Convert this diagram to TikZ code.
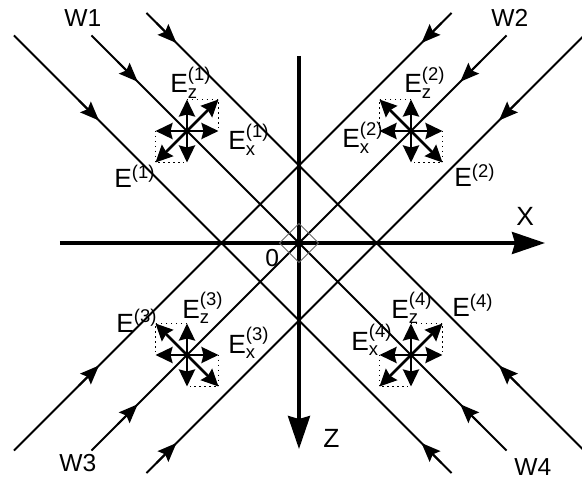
\documentclass[tikz,border=0pt]{standalone}
\usepackage{amsmath}
\usepackage{fontspec}
\setmainfont{Liberation Sans}
\usetikzlibrary{arrows.meta}

\begin{document}
\begin{tikzpicture}[x=1cm,y=1cm,
  wave/.style={line width=1.2pt},
  wavetip/.style={line width=1.2pt, -{Stealth[length=0.38cm, width=0.3cm, inset=0.06cm]}},
  axis/.style={line width=2pt, -{Stealth[length=0.66cm, width=0.44cm, inset=0.06cm]}},
  field/.style={line width=1.6pt, -{Stealth[length=0.34cm, width=0.32cm, inset=0.04cm]}},
  comp/.style={dotted, line width=0.8pt},
  lbl/.style={anchor=base west, inner sep=0pt, font=\fontsize{15}{17}\selectfont},
  wlbl/.style={anchor=base west, inner sep=0pt, font=\fontsize{14}{16}\selectfont}]
  \useasboundingbox (-5.98,-4.70) rectangle (5.66,4.86);

  % waves going down-right
  \draw[wave] (-5.7,4.15) -- (3.05,-4.6);
  \draw[wave] (-4.15,4.15) -- (4.15,-4.15);
  \draw[wave] (-3.05,4.6) -- (5.7,-4.15);
  % waves going up-right
  \draw[wave] (-5.7,-4.15) -- (3.05,4.6);
  \draw[wave] (-4.15,-4.15) -- (4.15,4.15);
  \draw[wave] (-3.05,-4.6) -- (5.7,4.15);

  % W1
  \draw[wavetip] (-4.4,2.85) -- (-4.0,2.45);
  \draw[wavetip] (-3.625,3.625) -- (-3.225,3.225);
  \draw[wavetip] (-2.85,4.4) -- (-2.45,4.0);
  % W2
  \draw[wavetip] (2.85,4.4) -- (2.45,4.0);
  \draw[wavetip] (3.625,3.625) -- (3.225,3.225);
  \draw[wavetip] (4.4,2.85) -- (4.0,2.45);
  % W3
  \draw[wavetip] (-4.4,-2.85) -- (-4.0,-2.45);
  \draw[wavetip] (-3.625,-3.625) -- (-3.225,-3.225);
  \draw[wavetip] (-2.85,-4.4) -- (-2.45,-4.0);
  % W4
  \draw[wavetip] (2.85,-4.4) -- (2.45,-4.0);
  \draw[wavetip] (3.625,-3.625) -- (3.225,-3.225);
  \draw[wavetip] (4.4,-2.85) -- (4.0,-2.45);

  % axes
  \draw[axis] (-4.78,0) -- (4.92,0);
  \draw[axis] (0,3.74) -- (0,-4.12);
  \draw[black!60, line width=0.6pt] (0.39,0) -- (0,0.39) -- (-0.39,0) -- (0,-0.39) -- cycle;

  % field components
  \begin{scope}[shift={(-2.24,2.24)}]
    \draw[comp] (0,0.63) -- (0.63,0.63) -- (0.63,0);
    \draw[comp] (-0.63,0) -- (-0.63,-0.63) -- (0,-0.63);
    \draw[field] (0,0) -- (0,0.63);
    \draw[field] (0,0) -- (0,-0.63);
    \draw[field] (0,0) -- (0.63,0);
    \draw[field] (0,0) -- (-0.63,0);
    \draw[field] (0,0) -- (0.63,0.63);
    \draw[field] (0,0) -- (-0.63,-0.63);
  \end{scope}
  \begin{scope}[shift={(2.24,2.24)}]
    \draw[comp] (0,0.63) -- (-0.63,0.63) -- (-0.63,0);
    \draw[comp] (0.63,0) -- (0.63,-0.63) -- (0,-0.63);
    \draw[field] (0,0) -- (0,0.63);
    \draw[field] (0,0) -- (0,-0.63);
    \draw[field] (0,0) -- (0.63,0);
    \draw[field] (0,0) -- (-0.63,0);
    \draw[field] (0,0) -- (-0.63,0.63);
    \draw[field] (0,0) -- (0.63,-0.63);
  \end{scope}
  \begin{scope}[shift={(-2.24,-2.24)}]
    \draw[comp] (0,0.63) -- (-0.63,0.63) -- (-0.63,0);
    \draw[comp] (0.63,0) -- (0.63,-0.63) -- (0,-0.63);
    \draw[field] (0,0) -- (0,0.63);
    \draw[field] (0,0) -- (0,-0.63);
    \draw[field] (0,0) -- (0.63,0);
    \draw[field] (0,0) -- (-0.63,0);
    \draw[field] (0,0) -- (-0.63,0.63);
    \draw[field] (0,0) -- (0.63,-0.63);
  \end{scope}
  \begin{scope}[shift={(2.24,-2.24)}]
    \draw[comp] (0,0.63) -- (0.63,0.63) -- (0.63,0);
    \draw[comp] (-0.63,0) -- (-0.63,-0.63) -- (0,-0.63);
    \draw[field] (0,0) -- (0,0.63);
    \draw[field] (0,0) -- (0,-0.63);
    \draw[field] (0,0) -- (0.63,0);
    \draw[field] (0,0) -- (-0.63,0);
    \draw[field] (0,0) -- (0.63,0.63);
    \draw[field] (0,0) -- (-0.63,-0.63);
  \end{scope}

  % labels
  \node[lbl] (ez1) at (-2.58,3.0) {E$_{\text{z}}^{\text{(1)}}$};
  \node[lbl] (ex1) at (-1.42,1.86) {E$_{\text{x}}^{\text{(1)}}$};
  \node[lbl] (e1) at (-3.7,1.10) {E$^{\text{(1)}}$};
  \node[lbl] (ez2) at (2.1,3.0) {E$_{\text{z}}^{\text{(2)}}$};
  \node[lbl] (ex2) at (0.86,1.9) {E$_{\text{x}}^{\text{(2)}}$};
  \node[lbl] (e2) at (3.1,1.12) {E$^{\text{(2)}}$};
  \node[lbl] (e3) at (-3.66,-1.78) {E$^{\text{(3)}}$};
  \node[lbl] (ez3) at (-2.34,-1.5) {E$_{\text{z}}^{\text{(3)}}$};
  \node[lbl] (ex3) at (-1.42,-2.2) {E$_{\text{x}}^{\text{(3)}}$};
  \node[lbl] (ez4) at (1.84,-1.5) {E$_{\text{z}}^{\text{(4)}}$};
  \node[lbl] (ex4) at (1.04,-2.14) {E$_{\text{x}}^{\text{(4)}}$};
  \node[lbl] (e4) at (3.06,-1.48) {E$^{\text{(4)}}$};
  \node[wlbl] (w1) at (-4.7,4.32) {W1};
  \node[wlbl] (w2) at (3.84,4.32) {W2};
  \node[wlbl] (w3) at (-4.8,-4.56) {W3};
  \node[wlbl] (w4) at (4.3,-4.64) {W4};
  \node[wlbl] (zero) at (-0.68,-0.46) {0};
  \node[lbl] (xlbl) at (4.34,0.34) {X};
  \node[lbl] (zlbl) at (0.48,-4.08) {Z};
\end{tikzpicture}
\end{document}
